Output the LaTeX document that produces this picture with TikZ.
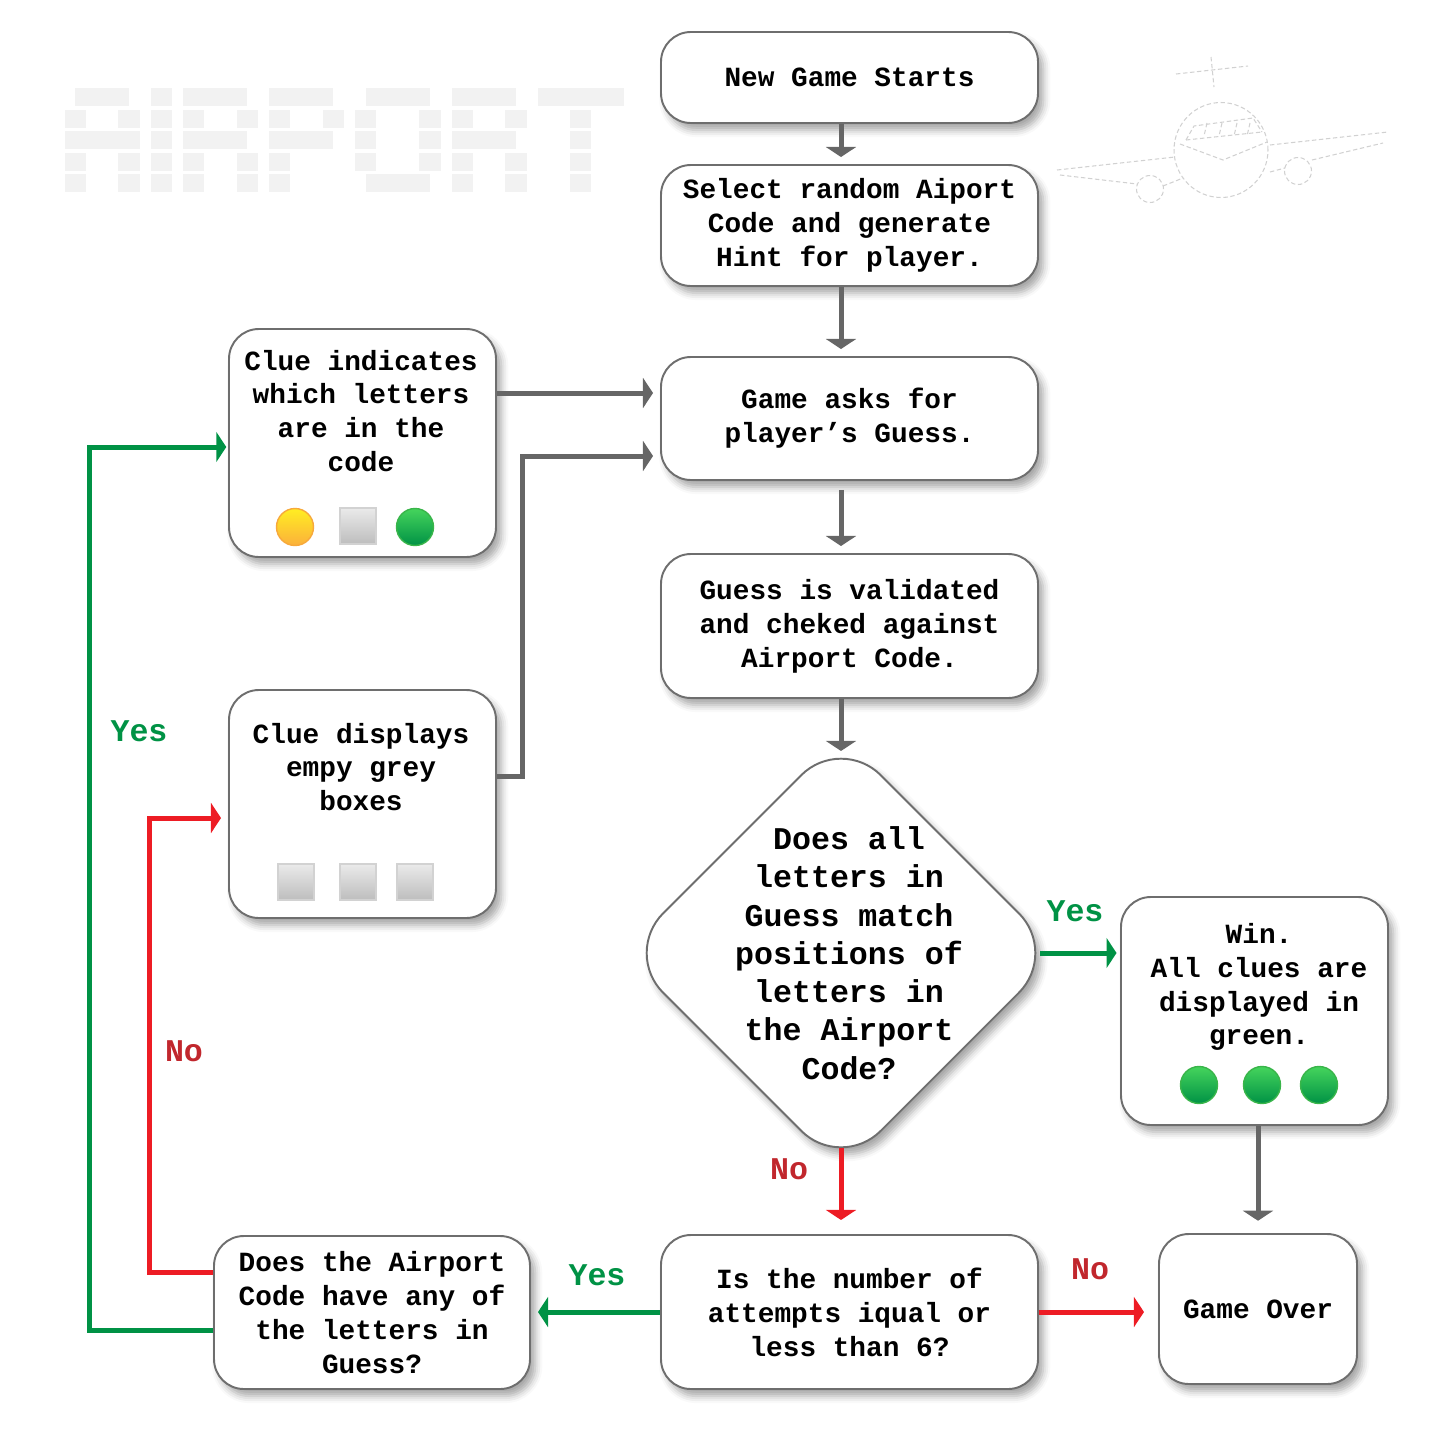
\documentclass[tikz,border=0pt]{standalone}
\usepackage{fontspec}
\newfontfamily\cour{Liberation Mono}
\usetikzlibrary{arrows.meta,calc,shapes.geometric,shadows.blur}
\definecolor{flowgrey}{HTML}{666666}
\definecolor{edgegrey}{HTML}{6E6E6E}
\definecolor{yesgreen}{HTML}{009245}
\definecolor{nored}{HTML}{ED1C24}
\definecolor{nolabel}{HTML}{C1272D}
\definecolor{logogrey}{HTML}{F2F2F2}
\definecolor{ytop}{HTML}{FFEE22}
\definecolor{ybot}{HTML}{FBB03B}
\definecolor{yedge}{HTML}{F7A93B}
\definecolor{gtop}{HTML}{45D45C}
\definecolor{gbot}{HTML}{009245}
\definecolor{gedge}{HTML}{39B54A}
\definecolor{ttop}{HTML}{EAEAEA}
\definecolor{tbot}{HTML}{BDBDBD}
\definecolor{tedge}{HTML}{D2D2D2}
\newcommand{\px}{0.02cm}
\tikzset{
  softshadow/.style={blur shadow={shadow xshift=3pt, shadow yshift=-4pt, shadow blur radius=4pt, shadow opacity=35}},
  box/.style={draw=edgegrey, line width=1.1pt, fill=white, rounded corners=17pt,
    minimum width=377*\px, inner sep=0pt, align=center, softshadow,
    font=\cour\bfseries\fontsize{15.8}{19.3}\selectfont},
  boxtext/.style={align=center, inner sep=0pt, font=\cour\bfseries\fontsize{15.8}{19.3}\selectfont},
  decision/.style={shape=diamond, draw=edgegrey, line width=1.1pt, fill=white, rounded corners=32pt,
    minimum width=436*\px, minimum height=436*\px, inner sep=0pt, softshadow},
  qtext/.style={align=center, inner sep=0pt, font=\cour\bfseries\fontsize{18}{21.8}\selectfont},
  lbl/.style={inner sep=0pt, font=\cour\bfseries\fontsize{18}{21.8}\selectfont},
  flow/.style={draw=flowgrey, line width=2.85pt, -{Triangle[width=17pt,length=5.7pt]}, shorten >=4pt},
  yesflow/.style={flow, draw=yesgreen, -{Triangle[width=17pt,length=5.7pt,fill=yesgreen]}},
  noflow/.style={flow, draw=nored, -{Triangle[width=17pt,length=5.7pt,fill=nored]}},
  ball/.style={circle, minimum size=37*\px, inner sep=0pt, line width=0.8pt},
  yball/.style={ball, draw=yedge, top color=ytop, bottom color=ybot},
  gball/.style={ball, draw=gedge, top color=gtop, bottom color=gbot},
  tile/.style={rectangle, minimum size=36*\px, inner sep=0pt, line width=0.8pt, draw=tedge, top color=ttop, bottom color=tbot},
  ascii/.style={draw=black!18, line width=0.6pt, dash pattern=on 2.5pt off 1.5pt}
}
\begin{document}
\begin{tikzpicture}[x=0.02cm, y=-0.02cm]
		\useasboundingbox (0,0) rectangle (1440,1440);
		%logo
		\foreach \a/\b/\r/\s in {1/6/1/1, 0/2/2/5, 5/7/2/5, 0/7/3/3,
				8/10/1/5,
				11/17/1/1, 11/13/2/5, 16/18/2/2, 11/17/3/3, 16/18/4/5,
				19/25/1/1, 19/21/2/5, 24/26/2/2, 19/25/3/3,
				28/34/1/1, 27/29/2/4, 33/35/2/4, 28/34/5/5,
				36/42/1/1, 36/38/2/5, 41/43/2/2, 36/42/3/3, 41/43/4/5,
				44/52/1/1, 47/49/2/5}{
			\foreach \k in {\r,...,\s}
				\fill[logogrey] ({64.5+\a*10.75},{66.5+\k*21.5}) rectangle ({64.5+\b*10.75},{84.5+\k*21.5});
		}
		%plane
		\begin{scope}[ascii]
			\draw (1176,74) -- (1248,66);
			\draw (1211,57) -- (1214,87);
			\draw (1221,150) ellipse [x radius=0.94cm, y radius=0.95cm];
			\draw (1186,140) -- (1194,126) -- (1253,118) -- (1262,132);
			\draw (1186,140) -- (1262,132);
			\foreach \x in {1207,1222,1237,1250}
				\draw (\x,123) -- (\x-3,136);
			\draw (1180,144) -- (1223,160) -- (1267,142);
			\draw (1057,170) -- (1175,157);
			\draw (1060,175) -- (1137,184);
			\draw (1163,186) -- (1183,178);
			\draw (1270,145) -- (1388,132);
			\draw (1270,172) -- (1285,168);
			\draw (1312,160) -- (1383,143);
			\draw (1150,189) circle [radius=0.27cm];
			\draw (1298,171) circle [radius=0.27cm];
		\end{scope}
		%main column
		\node[box, minimum height=91*\px] (start) at (849.5,77.5) {New Game Starts};
		\node[box, minimum height=121*\px] (select) at (849.5,225.5) {Select random Aiport\\Code and generate\\Hint for player.};
		\node[box, minimum height=123*\px] (ask) at (849.5,418.5) {Game asks for\\player’s Guess.};
		\node[box, minimum height=144*\px] (check) at (849.5,626) {Guess is validated\\and cheked against\\Airport Code.};
		\node[decision] (match) at (841,953) {};
		\node[qtext] (matchtxt) at (849,953) {Does all\\letters in\\Guess match\\positions of\\letters in\\the Airport\\Code?};
		\path (match.center) ++(0,-195) coordinate (mtop) ++(0,390) coordinate (mbot);
		\path (match.center) ++(199,0) coordinate (mright);
		\node[box, minimum height=154*\px] (attempts) at (849.5,1312) {Is the number of\\attempts iqual or\\less than 6?};
		%right column
		\node[box, minimum width=267*\px, minimum height=228*\px] (win) at (1254.5,1011) {};
		\node[boxtext] (wintxt) at (1259,987) {Win.\\All clues are\\displayed in\\green.};
		\foreach \x/\n in {1199/w1, 1262/w2, 1319/w3}
			\node[gball] (\n) at (\x,1085) {};
		\node[box, minimum width=198*\px, minimum height=150*\px] (gameover) at (1258,1309) {Game Over};
		%left column
		\node[box, minimum width=316*\px, minimum height=153*\px] (anyletter) at (372,1312.5) {Does the Airport\\Code have any of\\the letters in\\Guess?};
		\node[box, minimum width=267*\px, minimum height=228*\px] (clueyes) at (362.5,443) {};
		\node[boxtext] (clueyestxt) at (361,411) {Clue indicates\\which letters\\are in the\\code};
		\node[yball] (c1) at (295,527) {};
		\node[tile] (c2) at (358,526) {};
		\node[gball] (c3) at (415,527) {};
		\node[box, minimum width=267*\px, minimum height=228*\px] (clueno) at (362.5,804) {};
		\node[boxtext] (cluenotxt) at (361,767) {Clue displays\\empy grey\\boxes};
		\foreach \x/\n in {296/t1, 358/t2, 415/t3}
			\node[tile] (\n) at (\x,882) {};
		%arrows
		\draw[flow] (start.south -| mtop) -- (select.north -| mtop);
		\draw[flow] (select.south -| mtop) -- (ask.north -| mtop);
		\draw[flow, shorten <=5pt] (ask.south -| mtop) -- (check.north -| mtop);
		\draw[flow] (check.south -| mtop) -- (mtop);
		\draw[noflow, shorten >=8pt] (mbot) -- (attempts.north -| mbot);
		\draw[yesflow, shorten >=2pt] (mright) -- (mright -| win.west);
		\draw[flow, shorten >=7pt] (win.south -| gameover.north) -- (gameover.north);
		\draw[noflow, shorten >=8pt] (attempts.east) -- (attempts.east -| gameover.west);
		\draw[yesflow] (attempts.west) -- (attempts.west -| anyletter.east);
		\draw[noflow] ($(anyletter.west)+(0,-40)$) -- ++(-64,0) |- ($(clueno.west)+(0,14)$);
		\draw[yesflow, shorten >=1pt] ($(anyletter.west)+(0,18)$) -- ++(-124,0) |- ($(clueyes.west)+(0,4)$);
		\draw[flow] ($(clueyes.east)+(0,-50)$) -- ($(ask.west)+(0,-25.5)$);
		\draw[flow] ($(clueno.east)+(0,-28)$) -- ++(26,0) |- ($(ask.west)+(0,37.5)$);
		%labels
		\node[lbl, text=nolabel] (no1) at (789,1169) {No};
		\node[lbl, text=yesgreen] (yes1) at (1075,911) {Yes};
		\node[lbl, text=nolabel] (no2) at (1090,1269) {No};
		\node[lbl, text=yesgreen] (yes2) at (597,1275) {Yes};
		\node[lbl, text=nolabel] (no3) at (184,1051) {No};
		\node[lbl, text=yesgreen] (yes3) at (139,731) {Yes};
\end{tikzpicture}
\end{document}
